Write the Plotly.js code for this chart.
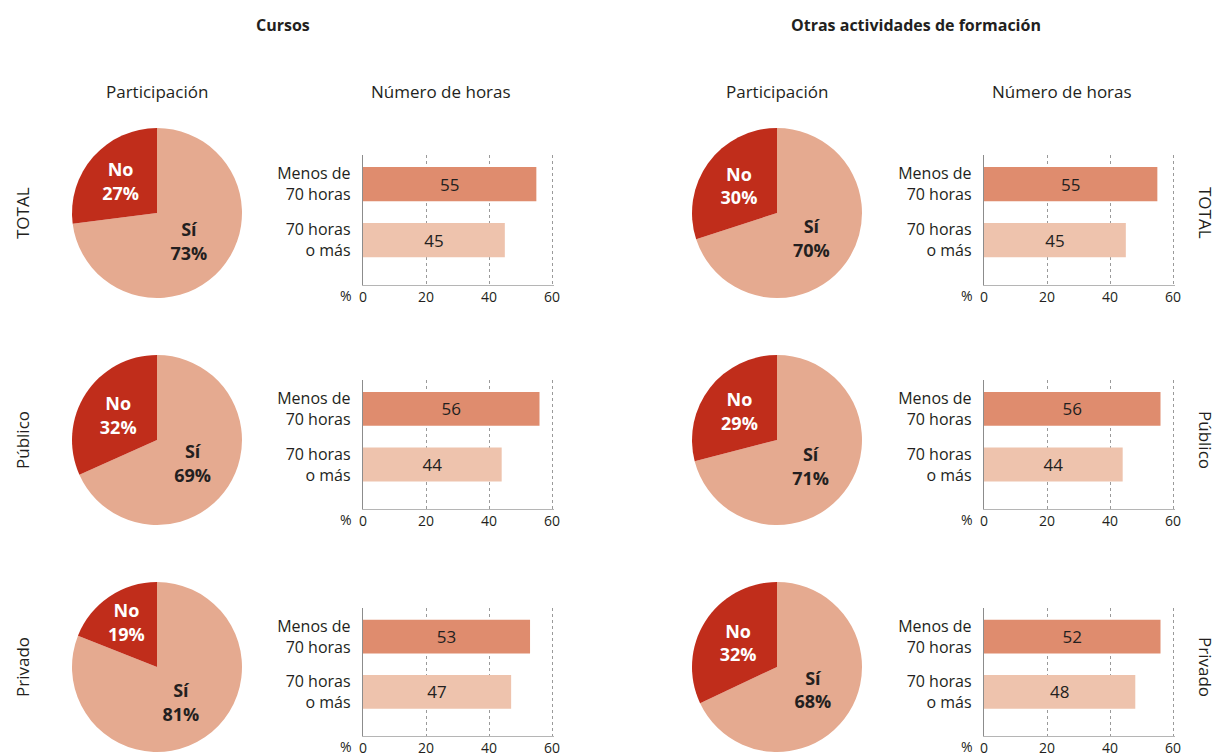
<!DOCTYPE html>
<html>
<head>
<meta charset="utf-8">
<script src="https://cdn.plot.ly/plotly-3.0.1.min.js"></script>
<style>html,body{margin:0;padding:0;background:#fff;}#chart{width:1216px;height:756px;}</style>
</head>
<body>
<div id="chart"></div>
<script>
// ---- data ----
const grupos = ["Cursos", "Otras actividades de formación"];
const filas = ["TOTAL", "Público", "Privado"];
const categoriasHoras = ["Menos de<br>70 horas", "70 horas<br>o más"];
const partLabels = ["Sí", "No"];

// Participación (%)
const cursosSi = [73, 69, 81];
const cursosNo = [27, 32, 19];
const otrasSi = [70, 71, 68];
const otrasNo = [30, 29, 32];

// Número de horas (%): [Menos de 70 horas, 70 horas o más]
const cursosMenos70 = [55, 56, 53];
const cursos70mas = [45, 44, 47];
const otrasMenos70 = [55, 56, 56];      // bar lengths as drawn
const otras70mas = [45, 44, 48];
const otrasMenos70Etiqueta = [55, 56, 52]; // printed labels
const ticksX = [0, 20, 40, 60];

// ---- layout helpers ----
const W = 1216, H = 756;
const px = x => x / W;
const py = y => 1 - y / H;
const FONT = "Open Sans, Noto Sans, sans-serif";
const TXT = "#231f20";
const cNo = "#c02d1b", cSi = "#e5aa90";
const cBar1 = "#df8c6e", cBar2 = "#eec3ad";

const pieCX = [157, 777];
const rowCY = [213, 440, 667];
const R = 85;
const barX = [[363, 554], [984, 1175]];
const barY = [[155, 285], [380, 509], [608, 736]];

const traces = [];
const layout = {
  width: W, height: H,
  margin: {l: 0, r: 0, t: 0, b: 0},
  paper_bgcolor: "#fff", plot_bgcolor: "rgba(0,0,0,0)",
  showlegend: false,
  font: {family: FONT, color: TXT},
  annotations: []
};

const pieSi = [cursosSi, otrasSi];
const pieNo = [cursosNo, otrasNo];
const barA = [cursosMenos70, otrasMenos70];
const barB = [cursos70mas, otras70mas];
const barALab = [cursosMenos70, otrasMenos70Etiqueta];

function ann(x, y, text, size, extra) {
  return Object.assign({xref: "paper", yref: "paper", x: x, y: y, xanchor: "center", yanchor: "middle",
    text: text, showarrow: false, font: {family: FONT, size: size, color: TXT}}, extra || {});
}

let ax = 0;
for (let g = 0; g < 2; g++) {
  for (let r = 0; r < 3; r++) {
    // pie
    const si = pieSi[g][r], no = pieNo[g][r];
    traces.push({
      type: "pie",
      values: [si, no],
      labels: partLabels,
      text: [partLabels[0] + "<br>" + si + "%", partLabels[1] + "<br>" + no + "%"],
      textinfo: "text",
      textposition: "inside",
      insidetextorientation: "horizontal",
      sort: false,
      direction: "clockwise",
      rotation: 0,
      marker: {colors: [cSi, cNo], line: {width: 0}},
      insidetextfont: {family: FONT, size: 18, weight: "bold", color: [TXT, "#ffffff"]},
      domain: {x: [px(pieCX[g] - R), px(pieCX[g] + R)], y: [py(rowCY[r] + R), py(rowCY[r] - R)]},
      hoverinfo: "none"
    });

    // bars
    ax++;
    const xa = ax === 1 ? "x" : "x" + ax;
    const ya = ax === 1 ? "y" : "y" + ax;
    traces.push({
      type: "bar",
      orientation: "h",
      x: [barA[g][r], barB[g][r]],
      y: categoriasHoras,
      text: [String(barALab[g][r]), String(barB[g][r])],
      textposition: "inside",
      insidetextanchor: "middle",
      constraintext: "none",
      textfont: {family: FONT, size: 17, color: TXT},
      marker: {color: [cBar1, cBar2], line: {width: 0}},
      width: 0.61,
      xaxis: xa, yaxis: ya,
      hoverinfo: "none"
    });
    const xk = ax === 1 ? "xaxis" : "xaxis" + ax;
    const yk = ax === 1 ? "yaxis" : "yaxis" + ax;
    layout[xk] = {
      domain: [px(barX[g][0]), px(barX[g][1])],
      anchor: ya,
      range: [0, 60.6],
      tickvals: ticksX,
      ticktext: ticksX.map(String),
      showgrid: true, gridcolor: "#9a9a9a", griddash: "dot", gridwidth: 1,
      zeroline: false,
      showline: true, linecolor: "#b5b5b5", linewidth: 1.2,
      ticks: "",
      ticklabelstandoff: -1,
      tickfont: {family: FONT, size: 14, color: TXT},
      fixedrange: true
    };
    layout[yk] = {
      domain: [py(barY[r][1]), py(barY[r][0])],
      anchor: xa,
      type: "category",
      categoryarray: categoriasHoras,
      range: [1.8, -0.52],
      showgrid: false, zeroline: false,
      showline: true, linecolor: "#8c8c8c", linewidth: 1.2,
      ticks: "",
      ticklabelstandoff: 8,
      tickfont: {family: FONT, size: 16, color: TXT},
      fixedrange: true
    };
    layout.annotations.push({
      xref: xa, yref: "paper", x: 0, y: py(barY[r][1] + 10),
      xanchor: "center", yanchor: "middle",
      xshift: -17, text: "%", showarrow: false,
      font: {family: FONT, size: 14, color: TXT}
    });
  }
}

// titles
const tituloX = [283, 916];
for (let g = 0; g < 2; g++) {
  layout.annotations.push(ann(px(tituloX[g]), py(25), "<b>" + grupos[g] + "</b>", 16));
  layout.annotations.push(ann(px(pieCX[g]), py(92), "Participación", 17));
  layout.annotations.push(ann(px(barX[g][0] + 78), py(92), "Número de horas", 17));
}
for (let r = 0; r < 3; r++) {
  layout.annotations.push(ann(px(22), py(rowCY[r]), filas[r], 17, {textangle: -90}));
  layout.annotations.push(ann(px(1206), py(rowCY[r]), filas[r], 17, {textangle: 90}));
}

Plotly.newPlot("chart", traces, layout, {displayModeBar: false, staticPlot: true});
</script>
</body>
</html>
